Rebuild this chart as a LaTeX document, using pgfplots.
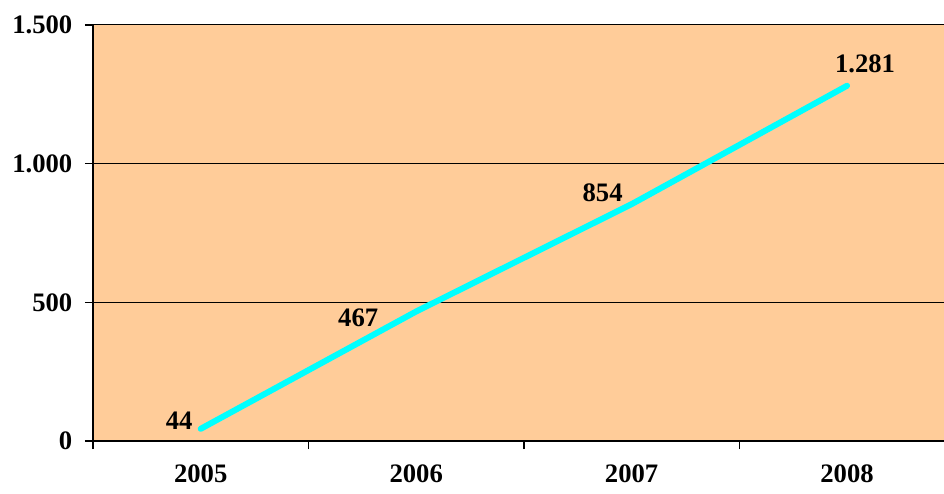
\documentclass[border=0pt]{standalone}
\usepackage{pgfplots}
\pgfplotsset{compat=1.18}
\usepackage{fontspec}
\setmainfont{Liberation Serif}
\definecolor{bgpeach}{HTML}{FFCC99}
\definecolor{cyanline}{HTML}{00FFFF}
\begin{document}
\begin{tikzpicture}
\useasboundingbox (-69.75pt,-39pt) rectangle (638.25pt,330.75pt);
\begin{axis}[
 at={(0,0)}, anchor=south west,
 scale only axis, width=638.25pt, height=312pt,
 xmin=-0.5, xmax=3.45, ymin=0, ymax=1500,
 axis background/.style={fill=bgpeach},
 axis x line*=bottom, axis y line*=left,
 axis line style={black, line width=1.5pt},
 tick align=outside, major tick length=6pt,
 tick style={black, line width=1pt},
 xtick={-0.5,0.5,1.5,2.5}, xticklabels={},
 extra x ticks={0,1,2,3}, extra x tick labels={2005,2006,2007,2008},
 extra x tick style={major tick length=0pt, tick label style={yshift=-14pt}},
 ytick={0,500,1000,1500},
 ymajorgrids, grid style={black, line width=0.75pt},
 /pgf/number format/.cd, 1000 sep={.}, assume math mode=true,
 /pgfplots/.cd,
 tick label style={font=\fontsize{20}{24}\selectfont\bfseries},
 yticklabel style={xshift=-6pt},
 clip=false,
]
\addplot[cyanline, line width=4.5pt, line cap=round] coordinates {(0,44)(1,467)(2,854)(3,1281)};
\begin{scope}[every node/.style={inner sep=0pt, font=\fontsize{20}{24}\selectfont\bfseries}]
\node[anchor=east] at ([xshift=-6pt,yshift=6pt]axis cs:0,44) {44};
\node at ([xshift=-43.5pt,yshift=-4.9pt]axis cs:1,467) {467};
\node at ([xshift=-21.75pt,yshift=8.25pt]axis cs:2,854) {854};
\node at ([xshift=13.5pt,yshift=16.5pt]axis cs:3,1281) {1.281};
\end{scope}
\end{axis}
\end{tikzpicture}
\end{document}
